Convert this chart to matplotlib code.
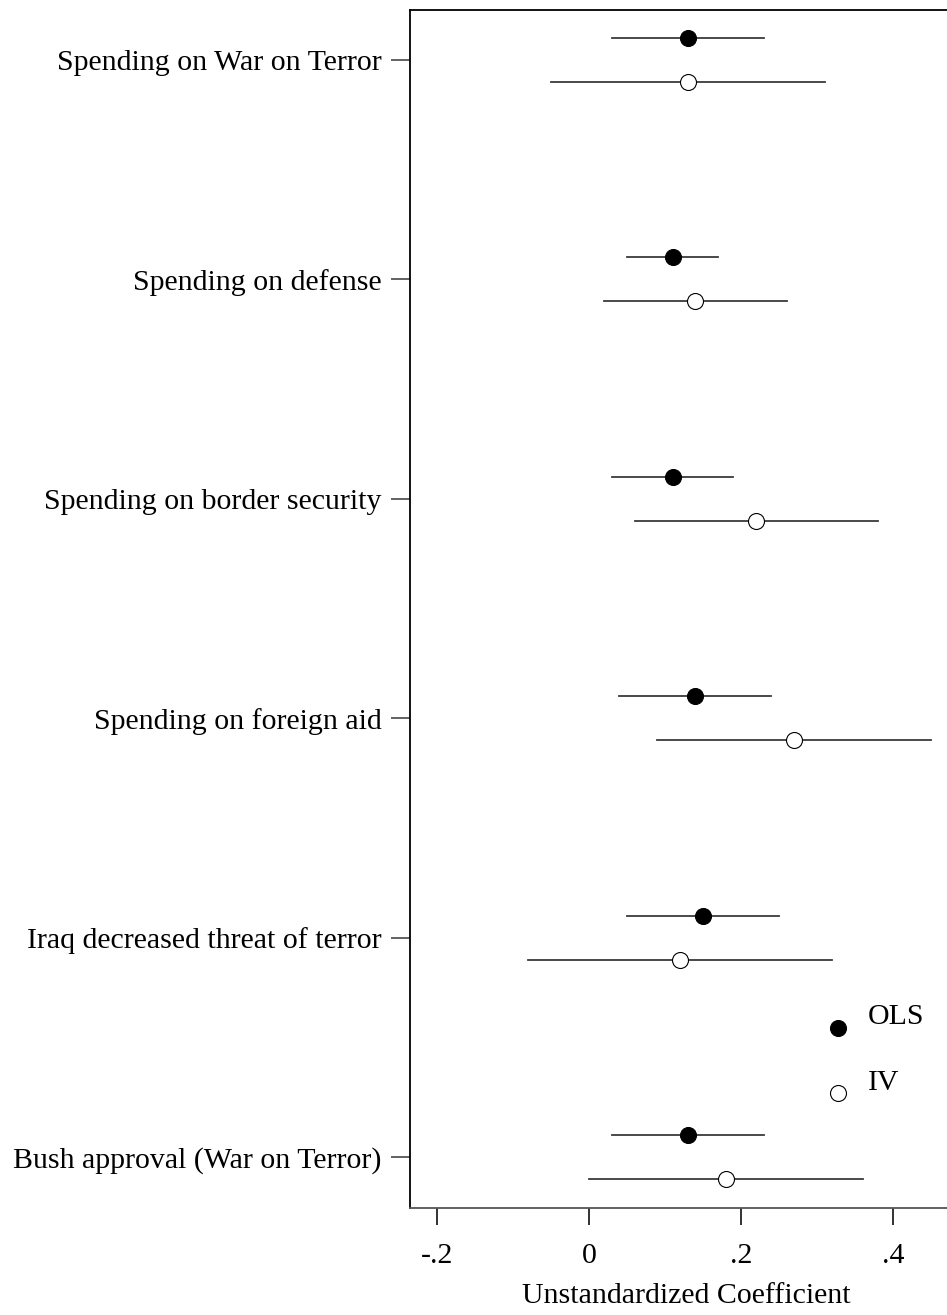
import matplotlib
matplotlib.use("Agg")
import matplotlib.pyplot as plt

# Outcomes, top to bottom
outcomes = [
    "Spending on War on Terror",
    "Spending on defense",
    "Spending on border security",
    "Spending on foreign aid",
    "Iraq decreased threat of terror",
    "Bush approval (War on Terror)",
]

# OLS estimates and 95% confidence bounds
ols_coef = [0.13, 0.11, 0.11, 0.14, 0.15, 0.13]
ols_low = [0.03, 0.05, 0.03, 0.04, 0.05, 0.03]
ols_high = [0.23, 0.17, 0.19, 0.24, 0.25, 0.23]

# IV estimates and 95% confidence bounds
iv_coef = [0.13, 0.14, 0.22, 0.27, 0.12, 0.18]
iv_low = [-0.05, 0.02, 0.06, 0.09, -0.08, 0.00]
iv_high = [0.31, 0.26, 0.38, 0.45, 0.32, 0.36]

x_ticks = [-0.2, 0.0, 0.2, 0.4]
x_tick_labels = ["-.2", "0", ".2", ".4"]

plt.rcParams["font.family"] = ["Liberation Serif", "DejaVu Serif"]
FS = 21.5

W, H = 947, 1315
AX_L, AX_R, AX_T, AX_B = 410, 962, 10, 1208
fig = plt.figure(figsize=(W / 100, H / 100), dpi=100)
ax = fig.add_axes([AX_L / W, 1 - AX_B / H, (AX_R - AX_L) / W, (AX_B - AX_T) / H])

pos = list(range(1, len(outcomes) + 1))
off = 0.1
line_col = "#3a3a3a"

for i, p in enumerate(pos):
    ax.plot([ols_low[i], ols_high[i]], [p - off, p - off], color=line_col, lw=1.3, zorder=1)
    ax.plot([iv_low[i], iv_high[i]], [p + off, p + off], color=line_col, lw=1.3, zorder=1)

ax.plot(ols_coef, [p - off for p in pos], "o", ms=11.5, mfc="black", mec="black",
        mew=0.8, ls="none", zorder=3)
ax.plot(iv_coef, [p + off for p in pos], "o", ms=11.5, mfc="white", mec="black",
        mew=0.8, ls="none", zorder=3)

ax.set_xlim(-0.2355, -0.2355 + (AX_R - AX_L) / 760)
ax.set_ylim(6.232, 0.772)

ax.set_yticks(pos)
ax.set_yticklabels(outcomes, fontsize=FS)
ax.set_xticks(x_ticks)
ax.set_xticklabels(x_tick_labels, fontsize=FS)

ax.tick_params(axis="y", length=14, width=1.3, color="#555555", pad=6.5)
ax.tick_params(axis="x", length=12, width=1.3, color="#222222", pad=13)

for s in ["left", "top"]:
    ax.spines[s].set_linewidth(1.3)
    ax.spines[s].set_color("black")
ax.spines["bottom"].set_linewidth(1.3)
ax.spines["bottom"].set_color("#555555")
ax.spines["right"].set_visible(False)

ax.set_xlabel("Unstandardized Coefficient", fontsize=FS, labelpad=10)

# Key drawn inside the plotting area
aw, ah = AX_R - AX_L, AX_B - AX_T
ax.plot([(838 - AX_L) / aw], [1 - (1028 - AX_T) / ah], "o", ms=11.5, mfc="black",
        mec="black", mew=0.8, transform=ax.transAxes, clip_on=False)
ax.plot([(838 - AX_L) / aw], [1 - (1093 - AX_T) / ah], "o", ms=11.5, mfc="white",
        mec="black", mew=0.8, transform=ax.transAxes, clip_on=False)
ax.text((868 - AX_L) / aw, 1 - (1017 - AX_T) / ah, "OLS", fontsize=FS,
        transform=ax.transAxes, va="center", ha="left")
ax.text((868 - AX_L) / aw, 1 - (1083 - AX_T) / ah, "IV", fontsize=FS,
        transform=ax.transAxes, va="center", ha="left")

fig.savefig("out.png", dpi=100)
